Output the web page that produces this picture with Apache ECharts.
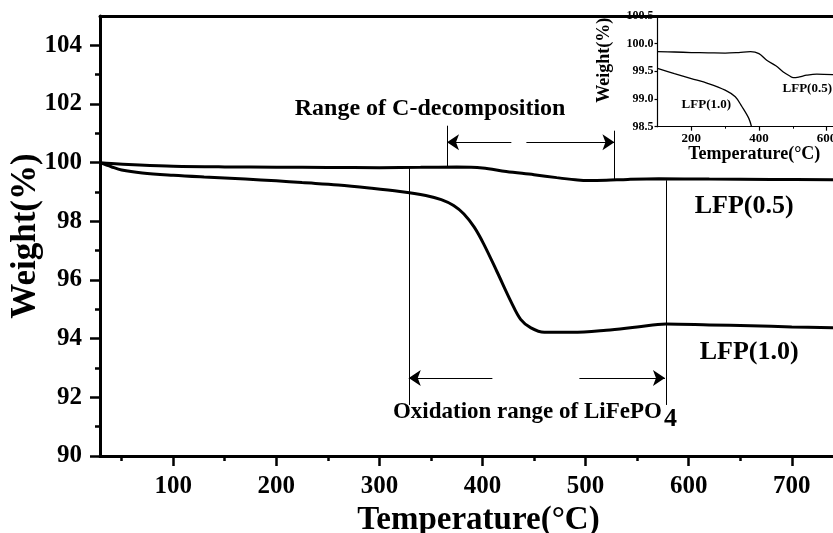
<!DOCTYPE html>
<html><head><meta charset="utf-8">
<script src="https://cdn.jsdelivr.net/npm/echarts@6/dist/echarts.min.js"></script>
<style>html,body{margin:0;padding:0;background:#fff}#c{width:833px;height:533px}</style>
</head><body><div id="c"></div>
<script>
// ---- data ----
const xTicks = [100, 200, 300, 400, 500, 600, 700];
const xMinorTicks = [50, 150, 250, 350, 450, 550, 650];
const yTicks = [90, 92, 94, 96, 98, 100, 102, 104];
const yMinorTicks = [91, 93, 95, 97, 99, 101, 103];
const insetXTicks = [200, 400, 600];
const insetXMinorTicks = [300, 500];
const insetYTicks = [98.5, 99.0, 99.5, 100.0, 100.5];

const lfp05Temp = [29, 40, 62, 100, 150, 200, 250, 300, 340, 375, 400, 423, 450, 472, 490, 502, 520, 541, 571, 620, 680, 740];
const lfp05Weight = [100.0, 99.97, 99.93, 99.88, 99.855, 99.845, 99.835, 99.83, 99.84, 99.85, 99.82, 99.70, 99.59, 99.49, 99.42, 99.39, 99.40, 99.43, 99.45, 99.44, 99.43, 99.42];

const lfp10Temp = [29, 40, 50, 70, 100, 130, 170, 200, 225, 260, 290, 320, 345, 360, 372, 382, 392, 401, 414, 428, 437, 447, 460, 487, 520, 550, 578, 620, 660, 700, 740];
const lfp10Weight = [100.0, 99.86, 99.75, 99.65, 99.57, 99.51, 99.44, 99.38, 99.32, 99.24, 99.14, 99.02, 98.88, 98.74, 98.54, 98.25, 97.80, 97.24, 96.29, 95.24, 94.66, 94.37, 94.22, 94.22, 94.29, 94.40, 94.50, 94.47, 94.44, 94.40, 94.37];

const inset05Temp = [100, 150, 200, 250, 300, 340, 375, 400, 423, 450, 472, 490, 502, 520, 541, 571, 619];
const inset05Weight = [99.855, 99.85, 99.84, 99.835, 99.83, 99.84, 99.855, 99.82, 99.70, 99.60, 99.49, 99.42, 99.385, 99.40, 99.43, 99.45, 99.44];
const inset10Temp = [100, 150, 200, 250, 300, 330, 350, 370, 378];
const inset10Weight = [99.555, 99.46, 99.37, 99.28, 99.16, 99.04, 98.86, 98.65, 98.5];

// annotation guides (data units)
const guideLines = [
  [[365.6, 101.26], [365.6, 99.85]],
  [[528, 101.09], [528, 99.44]],
  [[328.5, 99.85], [328.5, 91.74]],
  [[578.5, 99.40], [578.5, 91.74]]
];
const arrowLines = [
  [[428, 100.70], [365.6, 100.70]],
  [[442.6, 100.70], [528, 100.70]],
  [[409.6, 92.66], [328.5, 92.66]],
  [[494, 92.66], [577, 92.66]]
];
const mainLabels = [
  {text: 'Range of C-decomposition', x: 349.2, y: 101.82, size: 24, align: 'center'},
  {text: 'LFP(0.5)', x: 653.8, y: 98.5, size: 26, align: 'center'},
  {text: 'LFP(1.0)', x: 658.7, y: 93.54, size: 26, align: 'center'},
  {text: 'Oxidation range of LiFePO', x: 574, y: 91.49, size: 23, align: 'right'},
  {text: '4', x: 576, y: 91.24, size: 26, align: 'left'}
];
const insetLabels = [
  {text: 'LFP(1.0)', x: 244.4, y: 98.89, size: 13, align: 'center'},
  {text: 'LFP(0.5)', x: 543, y: 99.18, size: 13, align: 'center'}
];

// ---- chart ----
const FONT = 'Liberation Serif';
const zip = (a, b) => a.map((v, i) => [v, b[i]]);
const chart = echarts.init(document.getElementById('c'), null, {renderer: 'canvas'});

function labelSeries(list, xi, yi) {
  return {
    type: 'scatter', xAxisIndex: xi, yAxisIndex: yi, symbolSize: 0, silent: true, z: 10,
    itemStyle: {opacity: 1},
    data: list.map(l => ({
      value: [l.x, l.y],
      label: {show: true, position: 'inside', formatter: l.text, align: l.align, verticalAlign: 'middle',
        color: '#000', opacity: 1, fontFamily: FONT, fontWeight: 'bold', fontSize: l.size}
    }))
  };
}
const labelStyle = (size) => ({color: '#000', fontFamily: FONT, fontWeight: 'bold', fontSize: size});

const option = {
  animation: false,
  backgroundColor: '#fff',
  grid: [
    {left: 100, right: 0, top: 16, bottom: 77, containLabel: false, outerBoundsMode: 'none'},
    {left: 657.5, right: 0, top: 16, bottom: 406.3, containLabel: false, outerBoundsMode: 'none'}
  ],
  xAxis: [
    {type: 'value', gridIndex: 0, min: 29, max: 740, position: 'bottom',
      axisLine: {lineStyle: {color: '#000', width: 3}},
      axisTick: {customValues: xTicks, length: 10, lineStyle: {color: '#000', width: 2.5}},
      axisLabel: Object.assign({customValues: xTicks, margin: 18}, labelStyle(25)),
      splitLine: {show: false},
      name: 'Temperature(°C)', nameLocation: 'middle', nameGap: 44,
      nameTextStyle: Object.assign({padding: [0, 0, 0, 24]}, labelStyle(33))
    },
    {type: 'value', gridIndex: 0, min: 29, max: 740, position: 'bottom',
      axisLine: {show: false},
      axisTick: {customValues: xMinorTicks, length: 5, lineStyle: {color: '#000', width: 2.5}},
      axisLabel: {show: false}, splitLine: {show: false}
    },
    {type: 'value', gridIndex: 0, min: 29, max: 740, position: 'top',
      axisLine: {lineStyle: {color: '#000', width: 3}},
      axisTick: {show: false}, axisLabel: {show: false}, splitLine: {show: false}
    },
    {type: 'value', gridIndex: 1, min: 100, max: 619, position: 'bottom',
      axisLine: {lineStyle: {color: '#000', width: 1.2}},
      axisTick: {customValues: insetXTicks, length: 4, lineStyle: {color: '#000', width: 1.2}},
      axisLabel: Object.assign({customValues: insetXTicks, margin: 5}, labelStyle(13)),
      splitLine: {show: false},
      name: 'Temperature(°C)', nameLocation: 'middle', nameGap: 11,
      nameTextStyle: Object.assign({padding: [0, 0, 0, 18]}, labelStyle(18))
    },
    {type: 'value', gridIndex: 1, min: 100, max: 619, position: 'bottom',
      axisLine: {show: false},
      axisTick: {customValues: insetXMinorTicks, length: 2, lineStyle: {color: '#000', width: 1}},
      axisLabel: {show: false}, splitLine: {show: false}
    }
  ],
  yAxis: [
    {type: 'value', gridIndex: 0, min: 90, max: 105, position: 'left',
      axisLine: {show: true, lineStyle: {color: '#000', width: 3}},
      axisTick: {show: true, customValues: yTicks, length: 10, lineStyle: {color: '#000', width: 2.5}},
      axisLabel: Object.assign({customValues: yTicks, margin: 18}, labelStyle(25)),
      splitLine: {show: false},
      name: 'Weight(%)', nameLocation: 'middle', nameGap: 57, nameRotate: 90, nameMoveOverlap: false,
      nameTextStyle: labelStyle(35)
    },
    {type: 'value', gridIndex: 0, min: 90, max: 105, position: 'left',
      axisLine: {show: false},
      axisTick: {show: true, customValues: yMinorTicks, length: 5, lineStyle: {color: '#000', width: 2.5}},
      axisLabel: {show: false}, splitLine: {show: false}
    },
    {type: 'value', gridIndex: 1, min: 98.5, max: 100.5, position: 'left',
      axisLine: {show: true, lineStyle: {color: '#000', width: 1.2}},
      axisTick: {show: true, customValues: insetYTicks, length: 3, lineStyle: {color: '#000', width: 1.2}},
      axisLabel: Object.assign({customValues: insetYTicks, margin: 4, formatter: v => Number(v).toFixed(1)}, labelStyle(12)),
      splitLine: {show: false},
      name: 'Weight(%)', nameLocation: 'middle', nameGap: 44, nameRotate: 90, nameMoveOverlap: false,
      nameTextStyle: Object.assign({padding: [0, 0, 0, 22]}, labelStyle(18))
    }
  ],
  series: [
    {type: 'line', name: 'LFP(0.5)', xAxisIndex: 0, yAxisIndex: 0, data: zip(lfp05Temp, lfp05Weight),
      smooth: 0.35, showSymbol: false, lineStyle: {color: '#000', width: 3}, z: 5},
    {type: 'line', name: 'LFP(1.0)', xAxisIndex: 0, yAxisIndex: 0, data: zip(lfp10Temp, lfp10Weight),
      smooth: 0.35, showSymbol: false, lineStyle: {color: '#000', width: 3}, z: 5},
    {type: 'line', name: 'inset LFP(0.5)', xAxisIndex: 3, yAxisIndex: 2, data: zip(inset05Temp, inset05Weight),
      smooth: 0.35, showSymbol: false, lineStyle: {color: '#000', width: 1.3}},
    {type: 'line', name: 'inset LFP(1.0)', xAxisIndex: 3, yAxisIndex: 2, data: zip(inset10Temp, inset10Weight),
      smooth: 0.35, showSymbol: false, lineStyle: {color: '#000', width: 1.3}},
    {type: 'lines', coordinateSystem: 'cartesian2d', xAxisIndex: 0, yAxisIndex: 0, silent: true,
      data: guideLines.map(c => ({coords: c})),
      symbol: ['none', 'none'], lineStyle: {color: '#000', width: 1, opacity: 1}},
    {type: 'lines', coordinateSystem: 'cartesian2d', xAxisIndex: 0, yAxisIndex: 0, silent: true,
      data: arrowLines.map(c => ({coords: c})),
      symbol: ['none', 'arrow'], symbolSize: 12, lineStyle: {color: '#000', width: 1, opacity: 1}},
    labelSeries(mainLabels, 0, 0),
    labelSeries(insetLabels, 3, 2)
  ]
};
chart.setOption(option);
</script>
</body></html>
